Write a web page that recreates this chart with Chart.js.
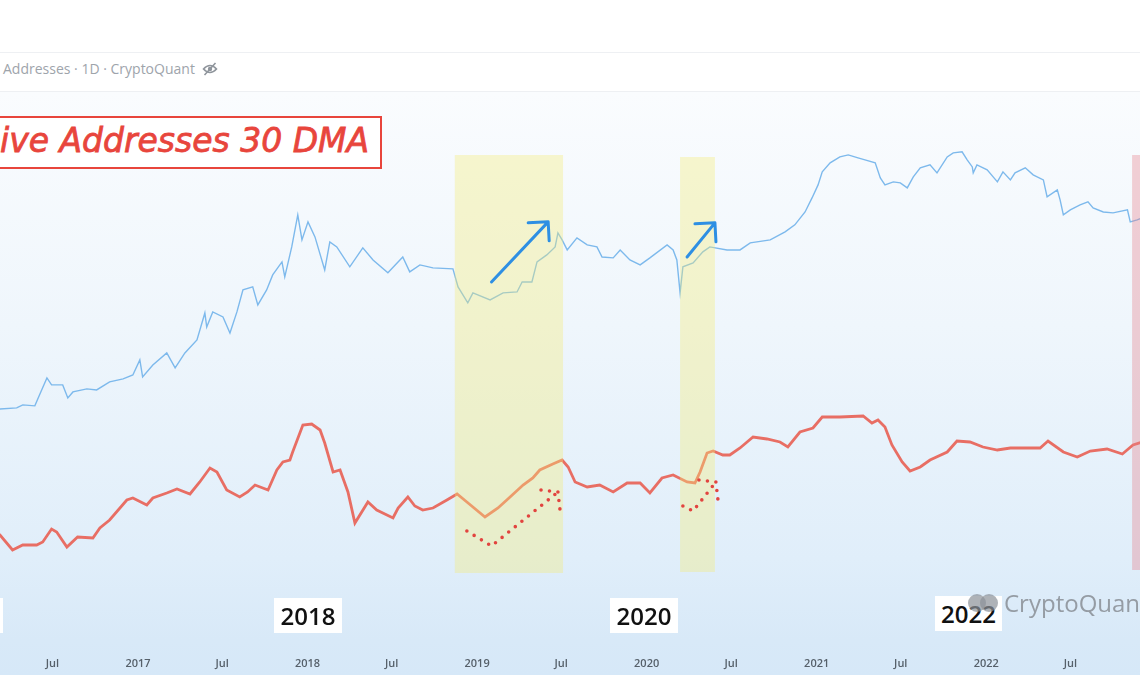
<!DOCTYPE html>
<html>
<head>
<meta charset="utf-8">
<title>Active Addresses 30 DMA</title>
<script src="https://cdn.jsdelivr.net/npm/chart.js@4.4.0/dist/chart.umd.min.js"></script>
<style>
  html, body { margin: 0; padding: 0; background: #fff; }
  body { width: 1140px; height: 694px; position: relative; overflow: hidden; font-family: "Open Sans", sans-serif; }
  .rule { position: absolute; left: 0; width: 1140px; height: 1px; background: #eef0f3; }
  #header { position: absolute; left: 3px; top: 60px; font-size: 14px; line-height: 18px; color: #9ea4ab; white-space: nowrap; }
  #header svg { position: absolute; left: 199px; top: 2px; }
  #plot { position: absolute; left: 0; top: 92px; width: 1140px; height: 583px;
    background: linear-gradient(to bottom, #fafcfe 0%, #eff6fc 40%, #e0eefa 80%, #d8e9f8 94%, #d6e8f8 100%); }
  #title { position: absolute; left: -3px; top: 116px; width: 381px; height: 49px; border: 2px solid #e8453c; background: #fff; }
  #title span { position: absolute; left: 1px; top: 3px; font: italic 33px "DejaVu Sans", sans-serif; color: #e8453c;
    -webkit-text-stroke: 0.8px #e8453c; white-space: nowrap; }
  .year { position: absolute; background: #fff; font: 600 24px "Open Sans", sans-serif; color: #111; text-align: center; line-height: 35px; height: 35px; }
  #logo { position: absolute; left: 967px; top: 593px; width: 34px; height: 20px; }
  #logo .dot { position: absolute; top: 1px; width: 18px; height: 18px; border-radius: 50%; background: rgba(140,146,152,0.7); }
  #mark { position: absolute; left: 1004px; top: 586px; font: 24px "Open Sans", sans-serif; color: #959ca4; white-space: nowrap; }
</style>
</head>
<body>
<div class="rule" style="top:52px"></div>
<div id="header">Addresses · 1D · CryptoQuant
  <svg width="16" height="14" viewBox="0 0 16 14"><path d="M1.5 7 Q8 0 14.5 7 Q8 14 1.5 7 Z" fill="none" stroke="#8f959c" stroke-width="1.6"/><circle cx="8" cy="7" r="2.2" fill="#8f959c"/><line x1="2.5" y1="13" x2="13.5" y2="1" stroke="#8f959c" stroke-width="1.6"/></svg>
</div>
<div class="rule" style="top:91px"></div>
<div id="plot"><canvas id="chart" width="1140" height="583"></canvas></div>
<div id="title"><span>ive Addresses 30 DMA</span></div>
<div id="mark">CryptoQuant</div>
<div class="year" style="left:-64px; top:598px; width:67px"></div>
<div class="year" style="left:274px; top:598px; width:68px">2018</div>
<div class="year" style="left:610px; top:598px; width:68px">2020</div>
<div class="year" style="left:935px; top:596px; width:67px">2022</div>
<div id="logo"><div class="dot" style="left:1px"></div><div class="dot" style="left:13px"></div></div>

<script>
// x axis range and ticks
const xStart = "2016-03-10";
const xEnd = "2022-11-28";
const tickDates = ["2016-07-01", "2017-01-01", "2017-07-01", "2018-01-01", "2018-07-01", "2019-01-01", "2019-07-01",
  "2020-01-01", "2020-07-01", "2021-01-01", "2021-07-01", "2022-01-01", "2022-07-01"];
const tickLabels = ["Jul", "2017", "Jul", "2018", "Jul", "2019", "Jul", "2020", "Jul", "2021", "Jul", "2022", "Jul"];

// BTC price (USD), log scale
const priceDates = [
  "2016-02-26", "2016-03-10", "2016-04-15", "2016-04-28", "2016-05-24", "2016-06-03", "2016-06-19", "2016-06-29",
  "2016-07-23", "2016-08-03", "2016-08-14", "2016-09-13", "2016-10-04", "2016-11-01", "2016-11-30", "2016-12-21",
  "2017-01-05", "2017-01-11", "2017-02-02", "2017-03-04", "2017-03-22", "2017-04-12", "2017-05-08", "2017-05-25",
  "2017-05-29", "2017-06-11", "2017-07-03", "2017-07-18", "2017-08-02", "2017-08-15", "2017-09-05", "2017-09-16",
  "2017-10-05", "2017-10-18", "2017-11-07", "2017-11-13", "2017-11-28", "2017-12-11", "2017-12-20", "2018-01-02",
  "2018-01-17", "2018-02-07", "2018-02-18", "2018-03-05", "2018-04-02", "2018-04-30", "2018-05-22", "2018-06-23",
  "2018-07-25", "2018-08-09", "2018-08-31", "2018-09-28", "2018-11-10", "2018-11-21", "2018-12-12", "2018-12-23",
  "2019-01-29", "2019-02-26", "2019-03-28", "2019-04-08", "2019-04-29", "2019-05-10", "2019-05-31", "2019-06-18",
  "2019-06-24", "2019-07-03", "2019-07-14", "2019-08-04", "2019-08-26", "2019-09-16", "2019-09-27", "2019-10-21",
  "2019-11-05", "2019-11-26", "2019-12-18", "2020-01-08", "2020-02-14", "2020-02-27", "2020-03-06", "2020-03-13",
  "2020-03-19", "2020-04-10", "2020-05-01", "2020-05-16", "2020-06-22", "2020-07-20", "2020-08-11", "2020-09-23",
  "2020-10-25", "2020-11-15", "2020-12-07", "2020-12-22", "2021-01-04", "2021-01-13", "2021-01-30", "2021-02-20",
  "2021-03-10", "2021-03-31", "2021-04-15", "2021-05-07", "2021-05-18", "2021-05-28", "2021-06-15", "2021-06-30",
  "2021-07-15", "2021-07-28", "2021-08-12", "2021-09-02", "2021-09-17", "2021-10-09", "2021-10-22", "2021-11-10",
  "2021-11-21", "2021-12-02", "2021-12-04", "2021-12-12", "2022-01-03", "2022-01-25", "2022-02-06", "2022-02-22",
  "2022-03-04", "2022-03-26", "2022-04-12", "2022-05-04", "2022-05-12", "2022-06-03", "2022-06-09", "2022-06-16",
  "2022-07-01", "2022-07-22", "2022-08-08", "2022-08-19", "2022-09-10", "2022-10-01", "2022-11-01", "2022-11-07",
  "2022-11-22", "2022-12-03"
];
const priceValues = [
  410, 406, 415, 441, 432, 538, 756, 657,
  657, 506, 571, 607, 594, 698, 741, 802,
  1083, 771, 980, 1245, 923, 1245, 1614, 2772,
  2095, 2831, 2559, 1858, 2831, 4395, 4667, 3254,
  4395, 5929, 7691, 5702, 10380, 19680, 11940, 17130,
  12680, 6557, 11480, 10380, 6966, 10190, 7998, 6180,
  8490, 6300, 7244, 6823, 6685, 4667, 3386, 4140,
  3597, 4140, 4218, 5151, 5151, 7691, 8851, 10380,
  13740, 11940, 9772, 12440, 10810, 10380, 8490, 8337,
  9772, 7998, 7244, 8337, 10810, 9772, 7998, 4140,
  6966, 7534, 9397, 10380, 9772, 9772, 11250, 11940,
  14030, 16140, 20880, 27650, 35890, 46560, 55720, 62810,
  65430, 61690, 59210, 55720, 41300, 35890, 38120, 37330,
  33800, 42170, 50470, 53580, 45630, 62810, 68080, 69500,
  59210, 51420, 45630, 53580, 48420, 38120, 46560, 39630,
  45630, 50470, 43850, 39630, 28250, 32490, 26610, 19680,
  21760, 24060, 25540, 22650, 20880, 20500, 21760, 17130,
  17820, 18550
];

// Active addresses, 30-day moving average
const addrDates = [
  "2016-02-26", "2016-03-10", "2016-04-06", "2016-04-28", "2016-05-28", "2016-06-10", "2016-06-29", "2016-07-10",
  "2016-08-01", "2016-08-24", "2016-09-26", "2016-10-11", "2016-11-01", "2016-12-08", "2016-12-21", "2017-01-20",
  "2017-02-02", "2017-03-04", "2017-03-26", "2017-04-23", "2017-05-14", "2017-06-05", "2017-06-20", "2017-07-11",
  "2017-08-08", "2017-08-25", "2017-09-10", "2017-10-08", "2017-10-27", "2017-11-09", "2017-11-24", "2017-11-30",
  "2017-12-22", "2018-01-10", "2018-01-28", "2018-02-07", "2018-02-25", "2018-03-12", "2018-03-29", "2018-04-13",
  "2018-05-11", "2018-05-30", "2018-07-04", "2018-07-15", "2018-08-05", "2018-08-20", "2018-09-06", "2018-09-28",
  "2018-10-28", "2018-11-19", "2018-12-10", "2019-01-18", "2019-02-15", "2019-03-13", "2019-04-10", "2019-05-01",
  "2019-05-16", "2019-06-13", "2019-07-03", "2019-07-16", "2019-07-31", "2019-08-26", "2019-09-22", "2019-10-21",
  "2019-11-20", "2019-12-18", "2020-01-08", "2020-02-03", "2020-02-27", "2020-03-28", "2020-04-14", "2020-04-25",
  "2020-05-10", "2020-05-23", "2020-06-13", "2020-06-28", "2020-07-20", "2020-08-17", "2020-09-16", "2020-10-14",
  "2020-10-31", "2020-11-26", "2020-12-24", "2021-01-13", "2021-02-20", "2021-04-11", "2021-04-30", "2021-05-13",
  "2021-05-28", "2021-06-12", "2021-07-04", "2021-07-21", "2021-08-12", "2021-09-02", "2021-10-09", "2021-10-30",
  "2021-11-27", "2021-12-25", "2022-01-25", "2022-02-22", "2022-03-22", "2022-04-27", "2022-05-14", "2022-06-16",
  "2022-07-16", "2022-08-13", "2022-09-18", "2022-10-21", "2022-11-13", "2022-12-03"
];
const addrValues = [
  550000, 525000, 450000, 475000, 475000, 490000, 555000, 540000,
  465000, 515000, 510000, 560000, 600000, 700000, 710000, 675000,
  710000, 735000, 755000, 730000, 790000, 860000, 840000, 750000,
  715000, 740000, 775000, 750000, 850000, 890000, 900000, 940000,
  1075000, 1080000, 1050000, 985000, 840000, 850000, 740000, 585000,
  690000, 650000, 610000, 660000, 715000, 670000, 650000, 660000,
  700000, 730000, 690000, 615000, 660000, 715000, 775000, 810000,
  850000, 880000, 900000, 865000, 790000, 765000, 775000, 740000,
  785000, 785000, 735000, 810000, 825000, 790000, 785000, 840000,
  935000, 945000, 925000, 925000, 960000, 1015000, 1005000, 990000,
  965000, 1040000, 1060000, 1115000, 1115000, 1120000, 1085000, 1100000,
  1065000, 975000, 890000, 845000, 865000, 900000, 940000, 995000,
  990000, 965000, 950000, 960000, 960000, 960000, 995000, 940000,
  915000, 945000, 955000, 930000, 975000, 990000
];

// highlighted periods
const bandFrom = ["2018-11-14", "2020-03-13", "2022-11-11"];
const bandTo = ["2019-07-05", "2020-05-27", "2022-12-31"];
const bandColors = ["rgba(245,235,120,0.36)", "rgba(245,235,120,0.36)", "rgba(230,130,140,0.37)"];

// arrows on the price line: [tail date, tail price, tip date, tip price]
const priceArrows = [
  ["2019-02-01", 5151, "2019-06-03", 17130],
  ["2020-03-28", 8490, "2020-05-27", 16790]
];
// dotted arrows under the address line: start, low, tip
const addrArrows = [
  [["2018-12-10", 545000], ["2019-02-01", 470000], ["2019-06-24", 740000]],
  [["2020-03-19", 670000], ["2020-04-10", 645000], ["2020-05-29", 790000]]
];

const day = s => Date.parse(s + "T00:00:00Z") / 864e5;
const toPoints = (dates, vals) => dates.map((d, i) => ({ x: day(d), y: vals[i] }));

const annotations = {
    id: "annotations",
    afterDatasetsDraw(chart) {
        const { ctx, chartArea, scales } = chart;
        const x = scales.x, yP = scales.yPrice, yA = scales.yAddr;
        ctx.save();
        ctx.beginPath();
        ctx.rect(chartArea.left, chartArea.top, chartArea.width, chartArea.height);
        ctx.clip();

        // shaded bands
        bandFrom.forEach((f, i) => {
            const x0 = x.getPixelForValue(day(f));
            const x1 = x.getPixelForValue(day(bandTo[i]));
            const top = chartArea.top + (i === 1 ? 65 : 63);
            const bottom = chartArea.top + (i === 0 ? 481 : i === 1 ? 480 : 478);
            ctx.fillStyle = bandColors[i];
            ctx.fillRect(x0, top, x1 - x0, bottom - top);
        });

        // blue arrows
        ctx.strokeStyle = "#2e8fe3";
        ctx.lineWidth = 3;
        ctx.lineCap = "round";
        ctx.lineJoin = "round";
        priceArrows.forEach(a => {
            const tx = x.getPixelForValue(day(a[0])), ty = yP.getPixelForValue(a[1]);
            const hx = x.getPixelForValue(day(a[2])), hy = yP.getPixelForValue(a[3]);
            ctx.beginPath();
            ctx.moveTo(tx, ty);
            ctx.lineTo(hx, hy);
            ctx.moveTo(hx - 20, hy + 1);
            ctx.lineTo(hx, hy);
            ctx.lineTo(hx + 1, hy + 19);
            ctx.stroke();
        });

        // red dotted arrows
        ctx.strokeStyle = "#e2443f";
        ctx.lineWidth = 3.6;
        ctx.setLineDash([0, 8.5]);
        addrArrows.forEach(a => {
            const p = a.map(q => [x.getPixelForValue(day(q[0])), yA.getPixelForValue(q[1])]);
            const tip = p[2];
            ctx.beginPath();
            ctx.moveTo(p[0][0], p[0][1]);
            ctx.lineTo(p[1][0], p[1][1]);
            ctx.lineTo(tip[0], tip[1]);
            ctx.stroke();
            ctx.beginPath();
            ctx.moveTo(tip[0], tip[1]);
            ctx.lineTo(tip[0] - 17, tip[1] - 2);
            ctx.moveTo(tip[0], tip[1]);
            ctx.lineTo(tip[0] + 2, tip[1] + 17);
            ctx.stroke();
        });
        ctx.restore();
    }
};

new Chart(document.getElementById("chart").getContext("2d"), {
    type: "line",
    data: {
        datasets: [
            {
                label: "Active Addresses 30 DMA",
                data: toPoints(addrDates, addrValues),
                yAxisID: "yAddr",
                borderColor: "#e86e64",
                borderWidth: 2.8,
                pointRadius: 0,
                tension: 0
            },
            {
                label: "BTC Price",
                data: toPoints(priceDates, priceValues),
                yAxisID: "yPrice",
                borderColor: "#7db9ec",
                borderWidth: 1.4,
                pointRadius: 0,
                tension: 0
            }
        ]
    },
    options: {
        responsive: false,
        animation: false,
        layout: { padding: 0 },
        plugins: { legend: { display: false }, tooltip: { enabled: false } },
        scales: {
            x: {
                type: "linear",
                min: day(xStart),
                max: day(xEnd),
                grid: { display: false, drawTicks: false },
                border: { display: false },
                afterBuildTicks: s => { s.ticks = tickDates.map(d => ({ value: day(d) })); },
                afterFit: s => { s.height = 35; },
                ticks: {
                    autoSkip: false,
                    maxRotation: 0,
                    padding: 17,
                    color: "#56606a",
                    font: { family: "'Open Sans', sans-serif", size: 11, weight: "600" },
                    callback: (v, i) => tickLabels[i]
                }
            },
            yPrice: { type: "logarithmic", display: false, min: 4, max: 230000 },
            yAddr: { type: "linear", display: false, min: 0, max: 2740000 }
        }
    },
    plugins: [annotations]
});
</script>
</body>
</html>
